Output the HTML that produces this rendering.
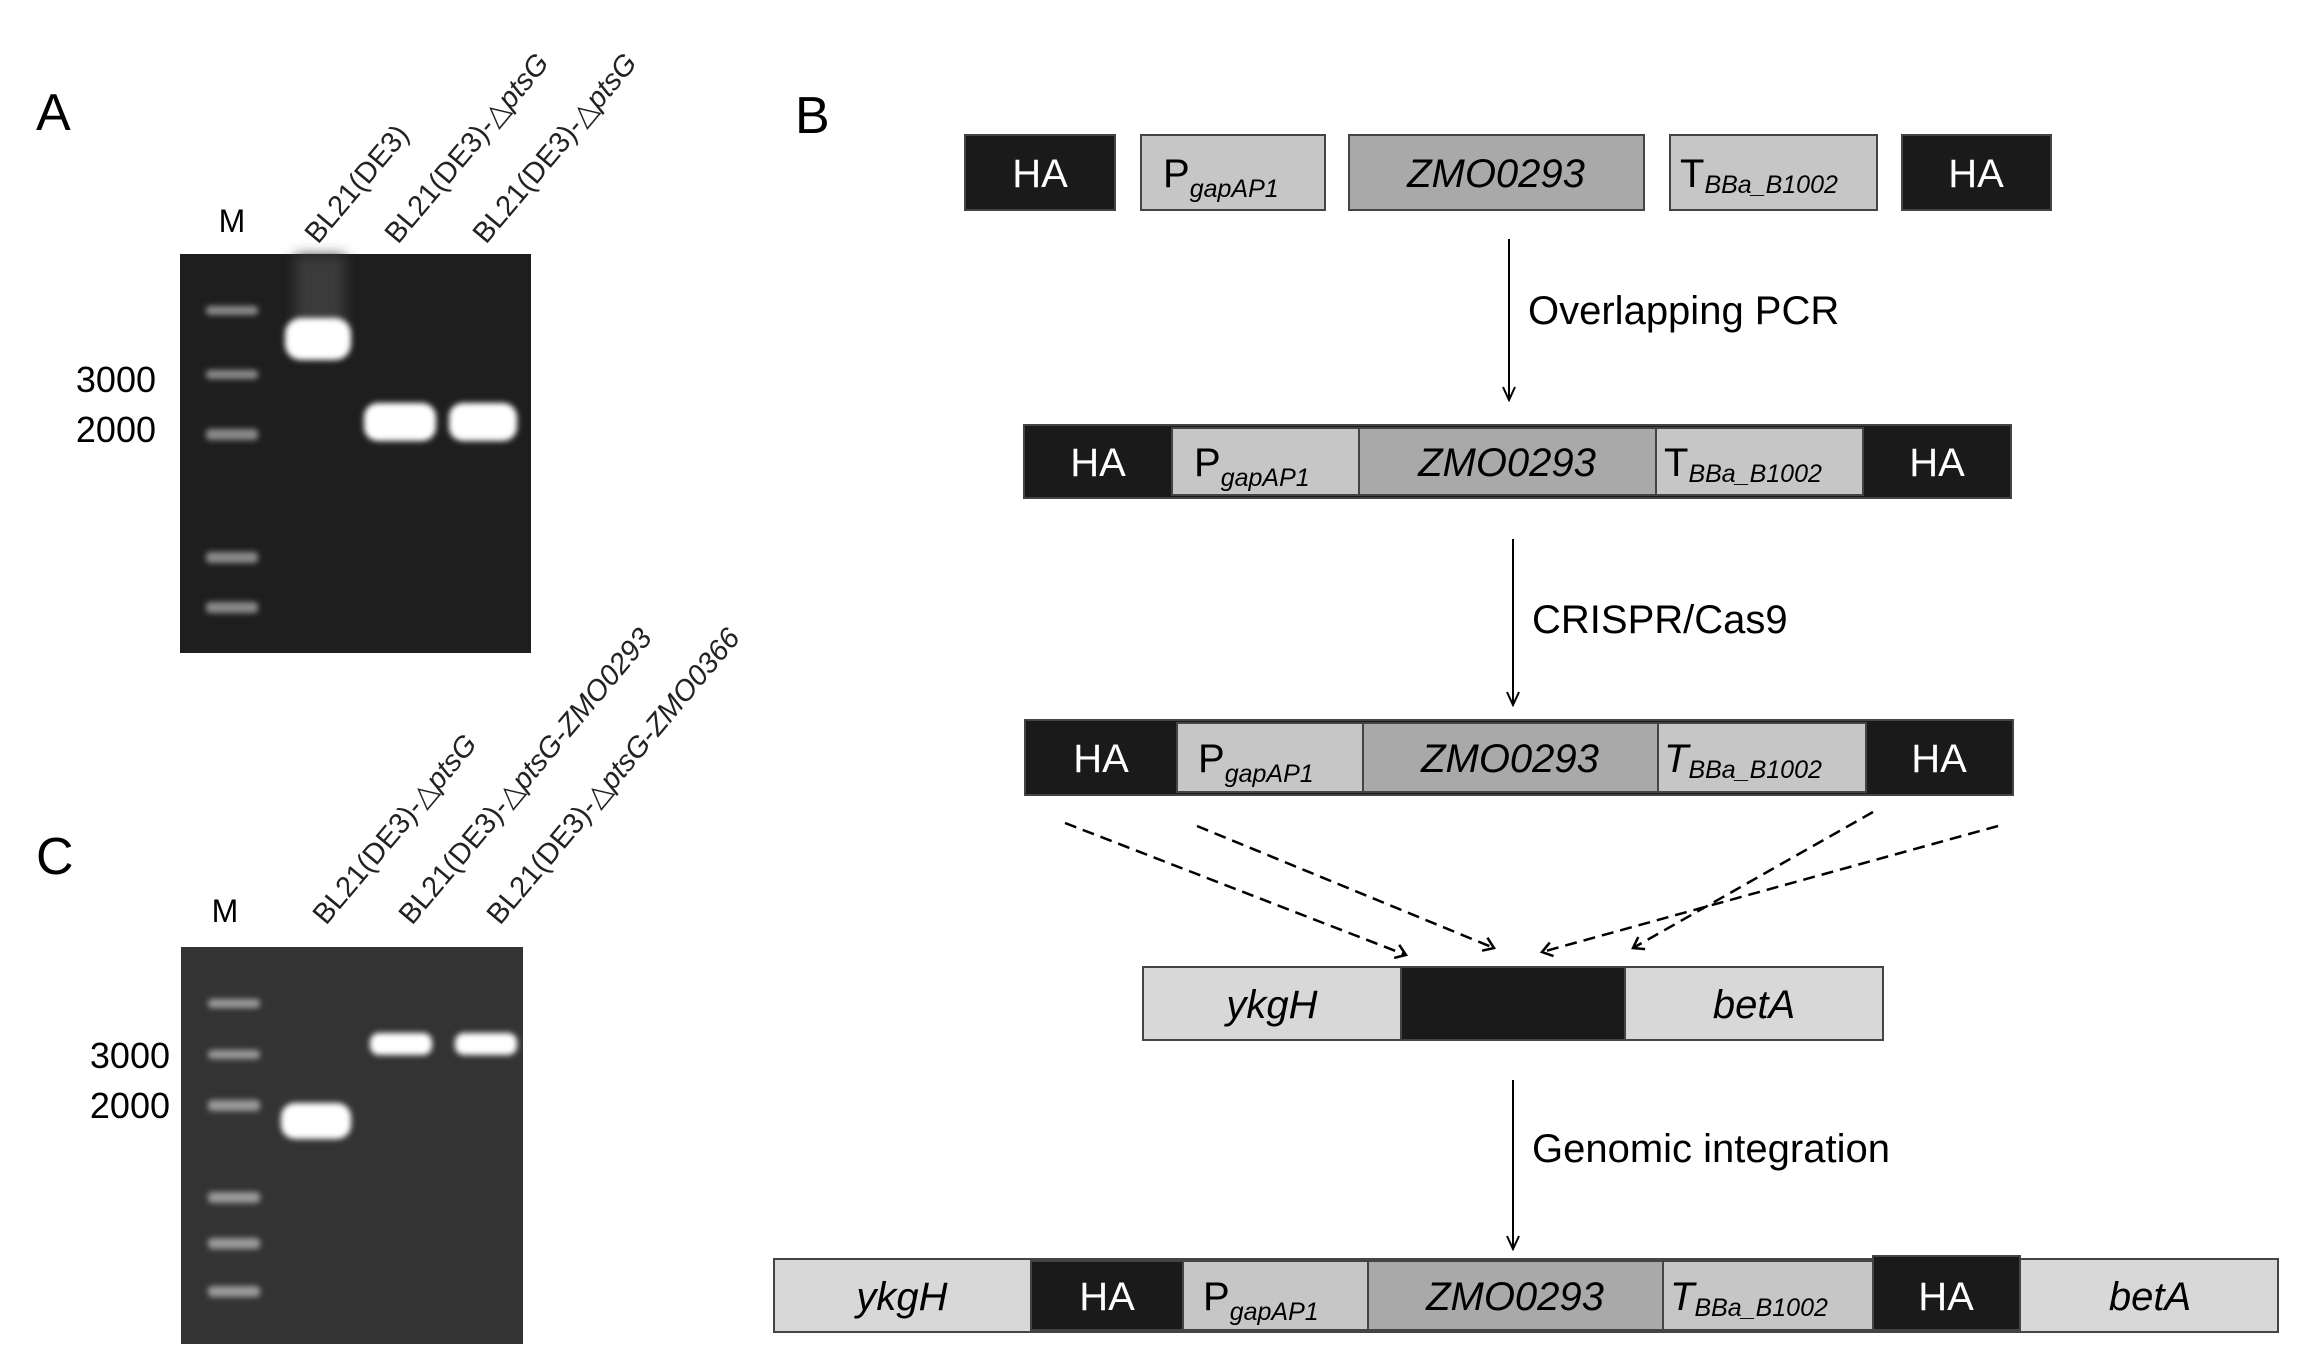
<!DOCTYPE html>
<html><head><meta charset="utf-8"><style>
html,body{margin:0;padding:0;background:#fff;}
svg{display:block;font-family:"Liberation Sans",sans-serif;}
</style></head><body>
<svg width="2304" height="1372" viewBox="0 0 2304 1372" xmlns="http://www.w3.org/2000/svg">
<defs>
<filter id="b1" x="-50%" y="-50%" width="200%" height="200%"><feGaussianBlur stdDeviation="3"/></filter>
<filter id="b2" x="-50%" y="-50%" width="200%" height="200%"><feGaussianBlur stdDeviation="6"/></filter>
<marker id="ah" markerWidth="16" markerHeight="16" refX="14" refY="7" orient="auto" markerUnits="userSpaceOnUse">
<path d="M1,1 L14,7 L1,13" fill="none" stroke="#000" stroke-width="2"/></marker>
<marker id="ad" markerWidth="20" markerHeight="20" refX="16" refY="10" orient="auto" markerUnits="userSpaceOnUse">
<path d="M6,3 L16,10 L6,17" fill="none" stroke="#000" stroke-width="2.5"/></marker>
</defs>

<!-- Panel A -->
<text x="36" y="130" font-size="52">A</text>
<text x="232" y="232" font-size="32" text-anchor="middle">M</text>
<g font-size="29" fill="#222">
<text transform="translate(318,245) rotate(-50)">BL21(DE3)</text>
<text transform="translate(398,245) rotate(-50)">BL21(DE3)-△<tspan font-style="italic">ptsG</tspan></text>
<text transform="translate(486,245) rotate(-50)">BL21(DE3)-△<tspan font-style="italic">ptsG</tspan></text>
</g>
<rect x="180" y="254" width="351" height="399" fill="#1e1e1e"/>
<g fill="#8a8a8a" filter="url(#b1)">
<rect x="206" y="306" width="52" height="9" rx="4"/>
<rect x="206" y="370" width="52" height="9" rx="4"/>
<rect x="206" y="429" width="52" height="11" rx="4"/>
<rect x="206" y="552" width="52" height="11" rx="4"/>
<rect x="206" y="602" width="52" height="11" rx="4"/>
</g>
<rect x="295" y="255" width="50" height="80" fill="#3a3a3a" filter="url(#b2)"/>
<g fill="#fff" filter="url(#b1)">
<rect x="285" y="318" width="66" height="42" rx="16"/>
<rect x="364" y="403" width="72" height="38" rx="14"/>
<rect x="449" y="403" width="68" height="38" rx="14"/>
</g>
<g font-size="36" text-anchor="end">
<text x="156" y="392">3000</text>
<text x="156" y="442">2000</text>
</g>

<!-- Panel C -->
<text x="36" y="874" font-size="52">C</text>
<text x="225" y="922" font-size="32" text-anchor="middle">M</text>
<g font-size="29" fill="#222">
<text transform="translate(326,926) rotate(-50)">BL21(DE3)-△<tspan font-style="italic">ptsG</tspan></text>
<text transform="translate(412,926) rotate(-50)">BL21(DE3)-△<tspan font-style="italic">ptsG</tspan>-<tspan font-style="italic">ZMO0293</tspan></text>
<text transform="translate(500,926) rotate(-50)">BL21(DE3)-△<tspan font-style="italic">ptsG</tspan>-<tspan font-style="italic">ZMO0366</tspan></text>
</g>
<rect x="181" y="947" width="342" height="397" fill="#333"/>
<g fill="#9a9a9a" filter="url(#b1)">
<rect x="208" y="999" width="52" height="9" rx="4"/>
<rect x="208" y="1050" width="52" height="9" rx="4"/>
<rect x="208" y="1100" width="52" height="11" rx="4"/>
<rect x="208" y="1192" width="52" height="11" rx="4"/>
<rect x="208" y="1238" width="52" height="11" rx="4"/>
<rect x="208" y="1286" width="52" height="11" rx="4"/>
</g>
<g fill="#fff" filter="url(#b1)">
<rect x="281" y="1103" width="70" height="36" rx="14"/>
<rect x="370" y="1033" width="62" height="22" rx="9"/>
<rect x="455" y="1033" width="62" height="22" rx="9"/>
</g>
<g font-size="36" text-anchor="end">
<text x="170" y="1068">3000</text>
<text x="170" y="1118">2000</text>
</g>

<!-- Panel B -->
<text x="795" y="133" font-size="52">B</text>

<!-- Row 1 -->
<g stroke="#444" stroke-width="2">
<rect x="965" y="135" width="150" height="75" fill="#1a1a1a"/>
<rect x="1141" y="135" width="184" height="75" fill="#c6c6c6"/>
<rect x="1349" y="135" width="295" height="75" fill="#a9a9a9"/>
<rect x="1670" y="135" width="207" height="75" fill="#c6c6c6"/>
<rect x="1902" y="135" width="149" height="75" fill="#1a1a1a"/>
</g>
<g font-size="40">
<text x="1040" y="187" fill="#fff" text-anchor="middle">HA</text>
<text x="1163" y="187">P<tspan font-size="25" font-style="italic" dy="10">gapAP1</tspan></text>
<text x="1496" y="187" font-style="italic" text-anchor="middle">ZMO0293</text>
<text x="1680" y="187">T<tspan font-size="25" font-style="italic" dy="6">BBa_B1002</tspan></text>
<text x="1976" y="187" fill="#fff" text-anchor="middle">HA</text>
</g>

<line x1="1509" y1="239" x2="1509" y2="400" stroke="#000" stroke-width="2" marker-end="url(#ah)"/>
<text x="1528" y="324" font-size="40">Overlapping PCR</text>

<!-- Row 2 -->
<g stroke="#444" stroke-width="2">
<rect x="1024" y="425" width="987" height="73" fill="#1a1a1a"/>
<rect x="1172" y="428" width="187" height="67" fill="#c6c6c6"/>
<rect x="1359" y="428" width="297" height="67" fill="#a9a9a9"/>
<rect x="1656" y="428" width="207" height="67" fill="#c6c6c6"/>
</g>
<g font-size="40">
<text x="1098" y="476" fill="#fff" text-anchor="middle">HA</text>
<text x="1194" y="476">P<tspan font-size="25" font-style="italic" dy="10">gapAP1</tspan></text>
<text x="1507" y="476" font-style="italic" text-anchor="middle">ZMO0293</text>
<text x="1664" y="476">T<tspan font-size="25" font-style="italic" dy="6">BBa_B1002</tspan></text>
<text x="1937" y="476" fill="#fff" text-anchor="middle">HA</text>
</g>

<line x1="1513" y1="539" x2="1513" y2="705" stroke="#000" stroke-width="2" marker-end="url(#ah)"/>
<text x="1532" y="633" font-size="40">CRISPR/Cas9</text>

<!-- Row 3 -->
<g stroke="#444" stroke-width="2">
<rect x="1025" y="720" width="988" height="75" fill="#1a1a1a"/>
<rect x="1177" y="723" width="186" height="69" fill="#c6c6c6"/>
<rect x="1363" y="723" width="295" height="69" fill="#a9a9a9"/>
<rect x="1658" y="723" width="208" height="69" fill="#c6c6c6"/>
</g>
<g font-size="40">
<text x="1101" y="772" fill="#fff" text-anchor="middle">HA</text>
<text x="1198" y="772">P<tspan font-size="25" font-style="italic" dy="10">gapAP1</tspan></text>
<text x="1510" y="772" font-style="italic" text-anchor="middle">ZMO0293</text>
<text x="1664" y="772" font-style="italic">T<tspan font-size="25" dy="6">BBa_B1002</tspan></text>
<text x="1939" y="772" fill="#fff" text-anchor="middle">HA</text>
</g>

<!-- dashed arrows -->
<g stroke="#000" stroke-width="2.5" stroke-dasharray="12,7" fill="none">
<line x1="1065" y1="823" x2="1406" y2="955" marker-end="url(#ad)"/>
<line x1="1197" y1="826" x2="1494" y2="948" marker-end="url(#ad)"/>
<line x1="1998" y1="826" x2="1542" y2="952" marker-end="url(#ad)"/>
<line x1="1873" y1="812" x2="1633" y2="948" marker-end="url(#ad)"/>
</g>

<!-- Row 4 -->
<g stroke="#444" stroke-width="2">
<rect x="1143" y="967" width="740" height="73" fill="#d8d8d8"/>
<rect x="1401" y="967" width="224" height="73" fill="#1a1a1a"/>
</g>
<g font-size="40" font-style="italic" text-anchor="middle">
<text x="1272" y="1018">ykgH</text>
<text x="1754" y="1018">betA</text>
</g>

<line x1="1513" y1="1080" x2="1513" y2="1249" stroke="#000" stroke-width="2" marker-end="url(#ah)"/>
<text x="1532" y="1162" font-size="40">Genomic integration</text>

<!-- Row 5 -->
<g stroke="#444" stroke-width="2">
<rect x="774" y="1259" width="1504" height="73" fill="#d8d8d8"/>
<rect x="1031" y="1261" width="152" height="69" fill="#1a1a1a"/>
<rect x="1183" y="1261" width="185" height="69" fill="#c6c6c6"/>
<rect x="1368" y="1261" width="295" height="69" fill="#a9a9a9"/>
<rect x="1663" y="1261" width="210" height="69" fill="#c6c6c6"/>
<rect x="1873" y="1256" width="147" height="74" fill="#1a1a1a"/>
</g>
<g font-size="40">
<text x="902" y="1310" font-style="italic" text-anchor="middle">ykgH</text>
<text x="1107" y="1310" fill="#fff" text-anchor="middle">HA</text>
<text x="1203" y="1310">P<tspan font-size="25" font-style="italic" dy="10">gapAP1</tspan></text>
<text x="1515" y="1310" font-style="italic" text-anchor="middle">ZMO0293</text>
<text x="1670" y="1310" font-style="italic">T<tspan font-size="25" dy="6">BBa_B1002</tspan></text>
<text x="1946" y="1310" fill="#fff" text-anchor="middle">HA</text>
<text x="2150" y="1310" font-style="italic" text-anchor="middle">betA</text>
</g>
</svg>
</body></html>
